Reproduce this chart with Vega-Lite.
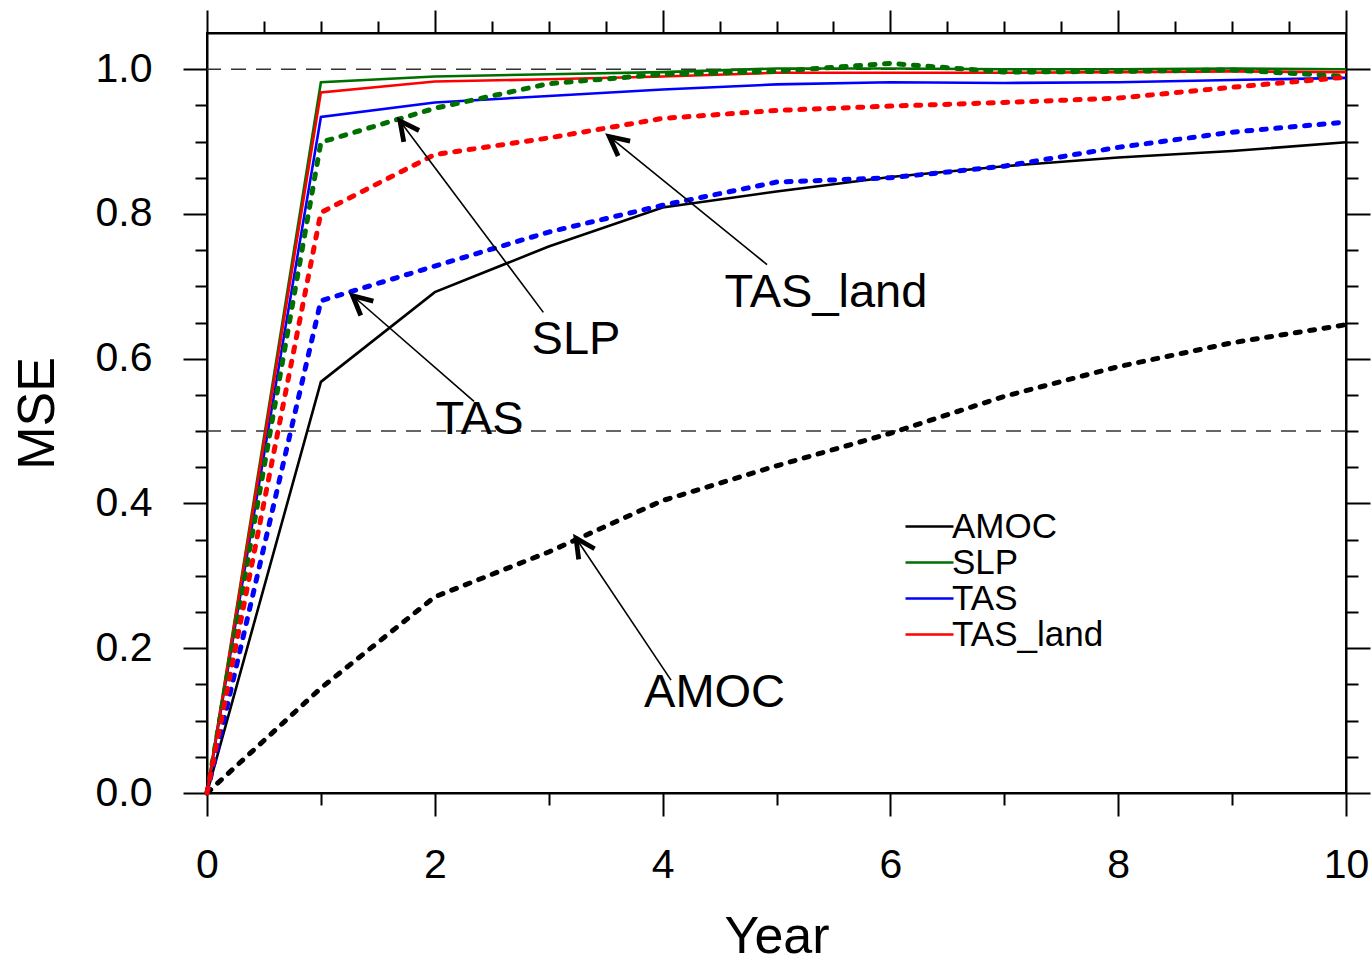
{
  "$schema": "https://vega.github.io/schema/vega-lite/v6.json",
  "width": 1139,
  "height": 760,
  "autosize": "none",
  "padding": {"left": 207, "top": 33, "right": 26, "bottom": 171},
  "background": "white",
  "config": {
    "font": "Liberation Sans",
    "view": {"stroke": "black", "strokeWidth": 2},
    "axis": {
      "grid": false,
      "domainColor": "black",
      "domainWidth": 2,
      "tickColor": "black",
      "tickWidth": 2,
      "labelColor": "black",
      "titleColor": "black",
      "labelFont": "Liberation Sans",
      "titleFont": "Liberation Sans",
      "labelFlush": false
    }
  },
  "datasets": {
    "mse": [
      {"variable": "AMOC", "case": "A", "year": 0, "mse": 0},
      {"variable": "AMOC", "case": "A", "year": 1, "mse": 0.568},
      {"variable": "AMOC", "case": "A", "year": 2, "mse": 0.692},
      {"variable": "AMOC", "case": "A", "year": 3, "mse": 0.755},
      {"variable": "AMOC", "case": "A", "year": 4, "mse": 0.809},
      {"variable": "AMOC", "case": "A", "year": 5, "mse": 0.831},
      {"variable": "AMOC", "case": "A", "year": 6, "mse": 0.851},
      {"variable": "AMOC", "case": "A", "year": 7, "mse": 0.866},
      {"variable": "AMOC", "case": "A", "year": 8, "mse": 0.878},
      {"variable": "AMOC", "case": "A", "year": 9, "mse": 0.887},
      {"variable": "AMOC", "case": "A", "year": 10, "mse": 0.899},
      {"variable": "SLP", "case": "A", "year": 0, "mse": 0},
      {"variable": "SLP", "case": "A", "year": 1, "mse": 0.982},
      {"variable": "SLP", "case": "A", "year": 2, "mse": 0.99},
      {"variable": "SLP", "case": "A", "year": 3, "mse": 0.993},
      {"variable": "SLP", "case": "A", "year": 4, "mse": 0.996},
      {"variable": "SLP", "case": "A", "year": 5, "mse": 1.001},
      {"variable": "SLP", "case": "A", "year": 6, "mse": 1.001},
      {"variable": "SLP", "case": "A", "year": 7, "mse": 1.0},
      {"variable": "SLP", "case": "A", "year": 8, "mse": 1.0},
      {"variable": "SLP", "case": "A", "year": 9, "mse": 1.001},
      {"variable": "SLP", "case": "A", "year": 10, "mse": 1.0},
      {"variable": "TAS", "case": "A", "year": 0, "mse": 0},
      {"variable": "TAS", "case": "A", "year": 1, "mse": 0.934},
      {"variable": "TAS", "case": "A", "year": 2, "mse": 0.954},
      {"variable": "TAS", "case": "A", "year": 3, "mse": 0.963},
      {"variable": "TAS", "case": "A", "year": 4, "mse": 0.972},
      {"variable": "TAS", "case": "A", "year": 5, "mse": 0.979},
      {"variable": "TAS", "case": "A", "year": 6, "mse": 0.982},
      {"variable": "TAS", "case": "A", "year": 7, "mse": 0.981},
      {"variable": "TAS", "case": "A", "year": 8, "mse": 0.982},
      {"variable": "TAS", "case": "A", "year": 9, "mse": 0.985},
      {"variable": "TAS", "case": "A", "year": 10, "mse": 0.988},
      {"variable": "TAS_land", "case": "A", "year": 0, "mse": 0},
      {"variable": "TAS_land", "case": "A", "year": 1, "mse": 0.968},
      {"variable": "TAS_land", "case": "A", "year": 2, "mse": 0.983},
      {"variable": "TAS_land", "case": "A", "year": 3, "mse": 0.986},
      {"variable": "TAS_land", "case": "A", "year": 4, "mse": 0.99},
      {"variable": "TAS_land", "case": "A", "year": 5, "mse": 0.995},
      {"variable": "TAS_land", "case": "A", "year": 6, "mse": 0.995},
      {"variable": "TAS_land", "case": "A", "year": 7, "mse": 0.995},
      {"variable": "TAS_land", "case": "A", "year": 8, "mse": 0.996},
      {"variable": "TAS_land", "case": "A", "year": 9, "mse": 0.997},
      {"variable": "TAS_land", "case": "A", "year": 10, "mse": 0.996},
      {"variable": "AMOC", "case": "B", "year": 0, "mse": 0},
      {"variable": "AMOC", "case": "B", "year": 1, "mse": 0.145},
      {"variable": "AMOC", "case": "B", "year": 2, "mse": 0.271},
      {"variable": "AMOC", "case": "B", "year": 3, "mse": 0.333},
      {"variable": "AMOC", "case": "B", "year": 4, "mse": 0.404},
      {"variable": "AMOC", "case": "B", "year": 5, "mse": 0.452},
      {"variable": "AMOC", "case": "B", "year": 6, "mse": 0.497},
      {"variable": "AMOC", "case": "B", "year": 7, "mse": 0.548},
      {"variable": "AMOC", "case": "B", "year": 8, "mse": 0.589},
      {"variable": "AMOC", "case": "B", "year": 9, "mse": 0.622},
      {"variable": "AMOC", "case": "B", "year": 10, "mse": 0.647},
      {"variable": "SLP", "case": "B", "year": 0, "mse": 0},
      {"variable": "SLP", "case": "B", "year": 1, "mse": 0.899},
      {"variable": "SLP", "case": "B", "year": 2, "mse": 0.946},
      {"variable": "SLP", "case": "B", "year": 3, "mse": 0.98},
      {"variable": "SLP", "case": "B", "year": 4, "mse": 0.993},
      {"variable": "SLP", "case": "B", "year": 5, "mse": 0.997},
      {"variable": "SLP", "case": "B", "year": 6, "mse": 1.008},
      {"variable": "SLP", "case": "B", "year": 7, "mse": 0.996},
      {"variable": "SLP", "case": "B", "year": 8, "mse": 0.997},
      {"variable": "SLP", "case": "B", "year": 9, "mse": 0.999},
      {"variable": "SLP", "case": "B", "year": 10, "mse": 0.99},
      {"variable": "TAS", "case": "B", "year": 0, "mse": 0},
      {"variable": "TAS", "case": "B", "year": 1, "mse": 0.68},
      {"variable": "TAS", "case": "B", "year": 2, "mse": 0.728},
      {"variable": "TAS", "case": "B", "year": 3, "mse": 0.775},
      {"variable": "TAS", "case": "B", "year": 4, "mse": 0.812},
      {"variable": "TAS", "case": "B", "year": 5, "mse": 0.844},
      {"variable": "TAS", "case": "B", "year": 6, "mse": 0.85},
      {"variable": "TAS", "case": "B", "year": 7, "mse": 0.866},
      {"variable": "TAS", "case": "B", "year": 8, "mse": 0.892},
      {"variable": "TAS", "case": "B", "year": 9, "mse": 0.913},
      {"variable": "TAS", "case": "B", "year": 10, "mse": 0.927},
      {"variable": "TAS_land", "case": "B", "year": 0, "mse": 0},
      {"variable": "TAS_land", "case": "B", "year": 1, "mse": 0.802},
      {"variable": "TAS_land", "case": "B", "year": 2, "mse": 0.882},
      {"variable": "TAS_land", "case": "B", "year": 3, "mse": 0.905},
      {"variable": "TAS_land", "case": "B", "year": 4, "mse": 0.932},
      {"variable": "TAS_land", "case": "B", "year": 5, "mse": 0.943},
      {"variable": "TAS_land", "case": "B", "year": 6, "mse": 0.949},
      {"variable": "TAS_land", "case": "B", "year": 7, "mse": 0.954},
      {"variable": "TAS_land", "case": "B", "year": 8, "mse": 0.96},
      {"variable": "TAS_land", "case": "B", "year": 9, "mse": 0.975},
      {"variable": "TAS_land", "case": "B", "year": 10, "mse": 0.989}
    ],
    "refs": [{"level": 0.5}, {"level": 1.0}],
    "notes": [
      {"label": "TAS_land", "textYear": 5.434, "textMse": 0.671, "tailYear": 4.917, "tailMse": 0.73, "headYear": 3.532, "headMse": 0.907},
      {"label": "SLP", "textYear": 3.24, "textMse": 0.606, "tailYear": 2.953, "tailMse": 0.664, "headYear": 1.694, "headMse": 0.9285},
      {"label": "TAS", "textYear": 2.393, "textMse": 0.4965, "tailYear": 2.344, "tailMse": 0.541, "headYear": 1.279, "headMse": 0.687},
      {"label": "AMOC", "textYear": 4.456, "textMse": 0.119, "tailYear": 4.074, "tailMse": 0.156, "headYear": 3.24, "headMse": 0.352}
    ]
  },
  "layer": [
    {
      "data": {"name": "refs"},
      "mark": {"type": "rule", "stroke": "#333333", "strokeWidth": 1.5, "strokeDash": [15, 10]},
      "encoding": {
        "y": {"field": "level", "type": "quantitative", "scale": {"domain": [0, 1.05], "nice": false, "zero": false}, "axis": null}
      }
    },
    {
      "data": {"name": "mse"},
      "transform": [{"filter": "datum.case === 'A'"}],
      "mark": {"type": "line", "strokeWidth": 2.6, "strokeJoin": "miter"},
      "encoding": {
        "x": {
          "field": "year", "type": "quantitative",
          "scale": {"domain": [0, 10], "nice": false, "zero": false},
          "axis": {
            "orient": "bottom",
            "values": [0, 0.5, 1, 1.5, 2, 2.5, 3, 3.5, 4, 4.5, 5, 5.5, 6, 6.5, 7, 7.5, 8, 8.5, 9, 9.5, 10],
            "format": "d",
            "labelExpr": "datum.value % 2 === 0 ? format(datum.value, 'd') : ''",
            "labelOverlap": false,
            "labelFlush": false,
            "labelFontSize": 41,
            "labelPadding": 29,
            "labelBaseline": "top",
            "tickSize": {"condition": {"test": "datum.value % 2 === 0", "value": 23}, "value": 12},
            "title": "Year",
            "titleFontSize": 52,
            "titleFontWeight": "normal",
            "titleBaseline": "alphabetic",
            "titleY": 159
          }
        },
        "y": {
          "field": "mse", "type": "quantitative",
          "scale": {"domain": [0, 1.05], "nice": false, "zero": false},
          "axis": {
            "orient": "left",
            "values": [0, 0.05, 0.1, 0.15, 0.2, 0.25, 0.3, 0.35, 0.4, 0.45, 0.5, 0.55, 0.6, 0.65, 0.7, 0.75, 0.8, 0.85, 0.9, 0.95, 1.0],
            "format": ".1f",
            "labelExpr": "abs(datum.value * 5 - round(datum.value * 5)) < 0.001 ? datum.label : ''",
            "labelOverlap": false,
            "labelFlush": false,
            "labelFontSize": 41,
            "labelPadding": 31,
            "tickSize": {"condition": {"test": "abs(datum.value * 5 - round(datum.value * 5)) < 0.001", "value": 24}, "value": 12},
            "title": "MSE",
            "titleFontSize": 52,
            "titleFontWeight": "normal",
            "titleBaseline": "alphabetic",
            "titleX": -154
          }
        },
        "color": {
          "field": "variable", "type": "nominal",
          "scale": {"domain": ["AMOC", "SLP", "TAS", "TAS_land"], "range": ["#000000", "#006f00", "#0000ff", "#ff0000"]},
          "legend": {
            "orient": "none",
            "legendX": 705,
            "legendY": 476,
            "title": null,
            "symbolType": "M -1.6 0 L 1.6 0",
            "symbolSize": 900,
            "symbolStrokeWidth": 2.6,
            "symbolFillColor": "transparent",
            "labelFontSize": 35,
            "labelFont": "Liberation Sans",
            "labelColor": "black",
            "labelOffset": 5,
            "rowPadding": -0.5,
            "padding": 0
          }
        }
      }
    },
    {
      "data": {"name": "mse"},
      "transform": [{"filter": "datum.case === 'B'"}],
      "mark": {"type": "line", "strokeWidth": 5, "strokeDash": [5, 9.5], "strokeCap": "round"},
      "encoding": {
        "x": {"field": "year", "type": "quantitative", "scale": {"domain": [0, 10], "nice": false, "zero": false}, "axis": null},
        "y": {"field": "mse", "type": "quantitative", "scale": {"domain": [0, 1.05], "nice": false, "zero": false}, "axis": null},
        "color": {"field": "variable", "type": "nominal", "legend": null}
      }
    },
    {
      "data": {"name": "mse"},
      "mark": {"type": "point", "opacity": 0},
      "encoding": {
        "x": {
          "field": "year", "type": "quantitative",
          "scale": {"domain": [0, 10], "nice": false, "zero": false},
          "axis": {
            "orient": "top",
            "values": [0, 0.5, 1, 1.5, 2, 2.5, 3, 3.5, 4, 4.5, 5, 5.5, 6, 6.5, 7, 7.5, 8, 8.5, 9, 9.5, 10],
            "labels": false,
            "title": null,
            "tickSize": {"condition": {"test": "datum.value % 2 === 0", "value": 23}, "value": 12}
          }
        },
        "y": {
          "field": "mse", "type": "quantitative",
          "scale": {"domain": [0, 1.05], "nice": false, "zero": false},
          "axis": {
            "orient": "right",
            "values": [0, 0.05, 0.1, 0.15, 0.2, 0.25, 0.3, 0.35, 0.4, 0.45, 0.5, 0.55, 0.6, 0.65, 0.7, 0.75, 0.8, 0.85, 0.9, 0.95, 1.0],
            "labels": false,
            "title": null,
            "tickSize": {"condition": {"test": "abs(datum.value * 5 - round(datum.value * 5)) < 0.001", "value": 24}, "value": 12}
          }
        }
      }
    },
    {
      "data": {"name": "notes"},
      "mark": {"type": "rule", "stroke": "black", "strokeWidth": 1.6},
      "encoding": {
        "x": {"field": "tailYear", "type": "quantitative", "scale": {"domain": [0, 10], "nice": false, "zero": false}, "axis": null},
        "y": {"field": "tailMse", "type": "quantitative", "scale": {"domain": [0, 1.05], "nice": false, "zero": false}, "axis": null},
        "x2": {"field": "headYear"},
        "y2": {"field": "headMse"}
      }
    },
    {
      "data": {"name": "notes"},
      "transform": [{"filter": "datum.label === 'TAS_land'"}],
      "mark": {"type": "point", "shape": "M -0.45 0.9 L 0 0 L 0.45 0.9", "filled": false, "stroke": "black", "strokeWidth": 4.8, "size": 1800, "opacity": 1, "angle": -51.0},
      "encoding": {
        "x": {"field": "headYear", "type": "quantitative", "axis": null},
        "y": {"field": "headMse", "type": "quantitative", "axis": null}
      }
    },
    {
      "data": {"name": "notes"},
      "transform": [{"filter": "datum.label === 'SLP'"}],
      "mark": {"type": "point", "shape": "M -0.45 0.9 L 0 0 L 0.45 0.9", "filled": false, "stroke": "black", "strokeWidth": 4.8, "size": 1800, "opacity": 1, "angle": -36.9},
      "encoding": {
        "x": {"field": "headYear", "type": "quantitative", "axis": null},
        "y": {"field": "headMse", "type": "quantitative", "axis": null}
      }
    },
    {
      "data": {"name": "notes"},
      "transform": [{"filter": "datum.label === 'TAS'"}],
      "mark": {"type": "point", "shape": "M -0.45 0.9 L 0 0 L 0.45 0.9", "filled": false, "stroke": "black", "strokeWidth": 4.8, "size": 1800, "opacity": 1, "angle": -48.9},
      "encoding": {
        "x": {"field": "headYear", "type": "quantitative", "axis": null},
        "y": {"field": "headMse", "type": "quantitative", "axis": null}
      }
    },
    {
      "data": {"name": "notes"},
      "transform": [{"filter": "datum.label === 'AMOC'"}],
      "mark": {"type": "point", "shape": "M -0.45 0.9 L 0 0 L 0.45 0.9", "filled": false, "stroke": "black", "strokeWidth": 4.8, "size": 1800, "opacity": 1, "angle": -33.8},
      "encoding": {
        "x": {"field": "headYear", "type": "quantitative", "axis": null},
        "y": {"field": "headMse", "type": "quantitative", "axis": null}
      }
    },
    {
      "data": {"name": "notes"},
      "mark": {"type": "text", "font": "Liberation Sans", "fontSize": 47, "align": "center", "baseline": "alphabetic", "color": "black"},
      "encoding": {
        "x": {"field": "textYear", "type": "quantitative", "axis": null},
        "y": {"field": "textMse", "type": "quantitative", "axis": null},
        "text": {"field": "label"}
      }
    }
  ],
  "resolve": {"axis": {"x": "independent", "y": "independent"}}
}
